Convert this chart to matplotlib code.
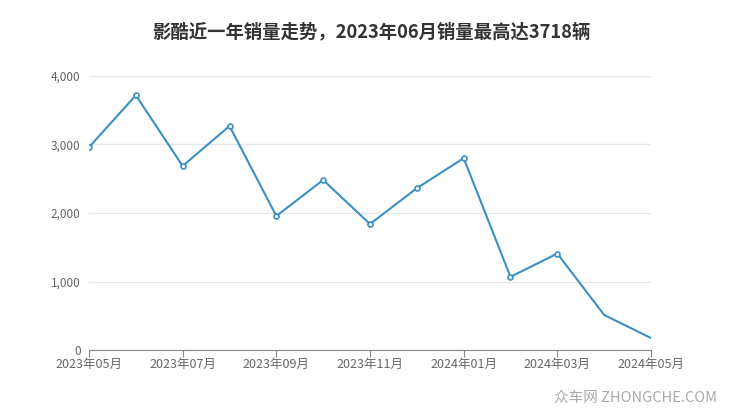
import matplotlib
matplotlib.use('Agg')
import matplotlib.pyplot as plt
from matplotlib.ticker import FuncFormatter

plt.rcParams['font.family'] = ['Noto Sans CJK SC', 'DejaVu Sans']

months = ['2023年05月', '2023年06月', '2023年07月', '2023年08月', '2023年09月',
          '2023年10月', '2023年11月', '2023年12月', '2024年01月', '2024年02月',
          '2024年03月', '2024年04月', '2024年05月']
sales = [2960, 3718, 2686, 3270, 1956, 2482, 1839, 2362, 2800, 1068, 1408, 511, 175]
yticks = [0, 1000, 2000, 3000, 4000]

line_color = '#3b8fc4'

fig = plt.figure(figsize=(7.4, 4.17), dpi=100)
ax = fig.add_axes([89 / 740, 67 / 417, 562 / 740, 274 / 417])

x = list(range(len(months)))
ax.plot(x, sales, color=line_color, linewidth=1.5, zorder=3)
# the last two points have no visible marker in the original
ax.plot(x[:11], sales[:11], linestyle='none', marker='o', markersize=3.6,
        markerfacecolor='white', markeredgecolor=line_color, markeredgewidth=1.2, zorder=4)

ax.set_xlim(0, len(months) - 1)
ax.set_ylim(0, 4000)
ax.set_yticks(yticks)
ax.yaxis.set_major_formatter(FuncFormatter(lambda v, p: f'{int(v):,}'))
ax.set_xticks(x[::2])
ax.set_xticklabels(months[::2])

ax.grid(axis='y', color='#e6e6e6', linewidth=1)
ax.set_axisbelow(True)
for s in ['top', 'right', 'left']:
    ax.spines[s].set_visible(False)
ax.spines['bottom'].set_color('#888888')
ax.tick_params(axis='y', length=0, pad=6, labelsize=8.5, labelcolor='#666666')
ax.tick_params(axis='x', length=5, color='#888888', labelsize=9, labelcolor='#666666', pad=1)

fig.text(371 / 740, 1 - 32 / 417, '影酷近一年销量走势，2023年06月销量最高达3718辆',
         ha='center', va='center', fontsize=13.2, fontweight='bold', color='#333333')
fig.text(717 / 740, 1 - 398 / 417, '众车网 ZHONGCHE.COM', ha='right', va='center',
         fontsize=10.5, color='#aaaaaa')

fig.savefig('out.png', dpi=100)
